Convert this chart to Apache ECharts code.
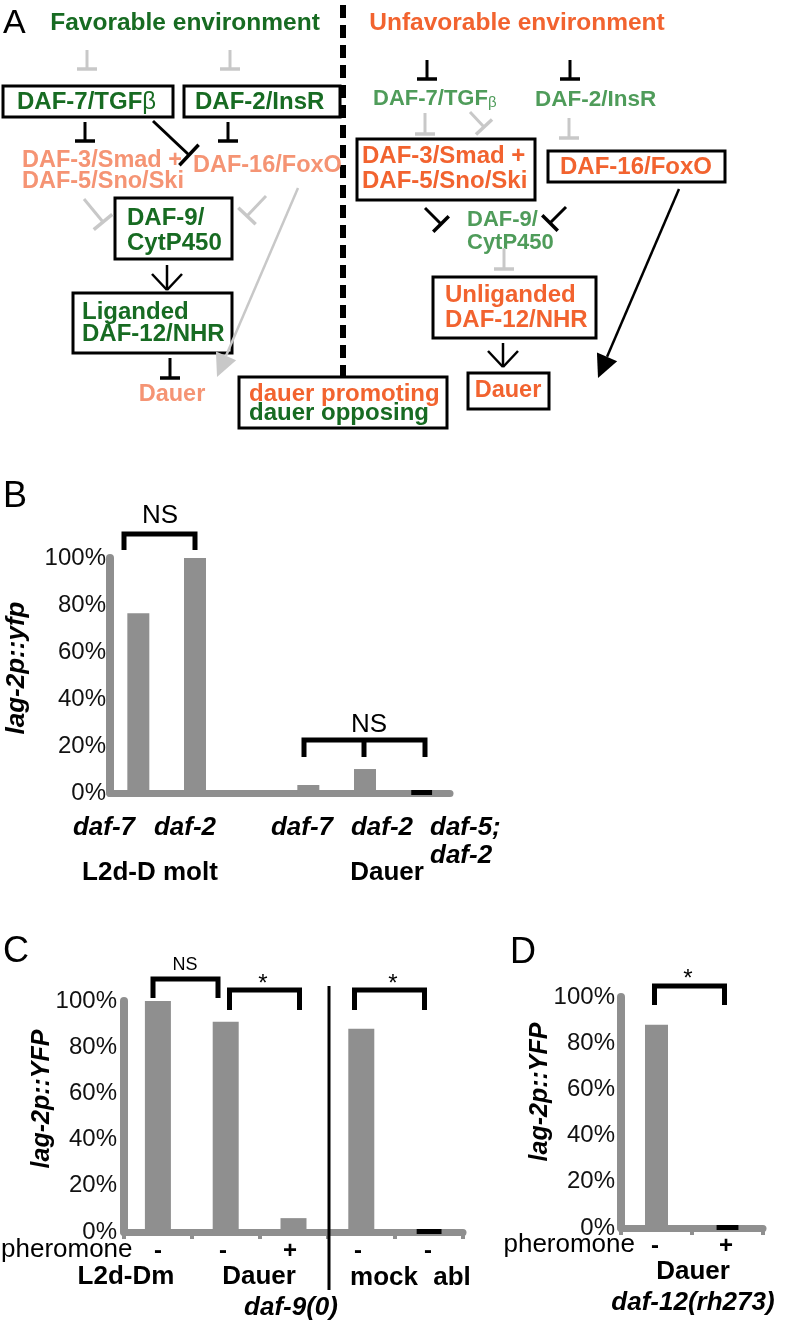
<!DOCTYPE html>
<html>
<head>
<meta charset="utf-8">
<script src="https://cdn.jsdelivr.net/npm/echarts@6/dist/echarts.min.js"></script>
<style>
html, body { margin: 0; padding: 0; background: #fff; }
#fig { width: 799px; height: 1325px; }
</style>
</head>
<body>
<div id="fig"></div>
<script>
// y ticks shared by the three bar panels (percent)
const pctTicks = [0, 20, 40, 60, 80, 100];

// panel B
const bCats = ['L2d-D daf-7', 'L2d-D daf-2', '', 'Dauer daf-7', 'Dauer daf-2', 'Dauer daf-5; daf-2'];
const bValues = [76.5, 100, '-', 3.4, 10.2, 0.5];
const bBlack = [false, false, false, false, false, true];
const bLabels = ['daf-7', 'daf-2', 'daf-7', 'daf-2', 'daf-5;', 'daf-2'];
const bGroups = ['L2d-D molt', 'Dauer'];

// panel C
const cCats = ['L2d-Dm -', 'Dauer -', 'Dauer +', 'mock -', 'abl -'];
const cValues = [100, 91, 6, 88, 0.5];
const cBlack = [false, false, false, false, true];
const cPher = ['-', '-', '+', '-', '-'];
const cGroups = ['L2d-Dm', 'Dauer', 'mock', 'abl'];

// panel D
const dCats = ['-', '+'];
const dValues = [88, 0.5];
const dBlack = [false, true];

const FONT = '"Liberation Sans", Arial, Helvetica, sans-serif';
const DG = '#176b22', OR = '#f2632f', SAL = '#f59474', MG = '#4f9c5a', GR = '#c8c8c8', BAR = '#8f8f8f';

const g = [];
function txt(x, y, s, size, color, o) {
  o = o || {};
  const st = {
    text: s, fill: color, fontSize: size, fontFamily: FONT,
    fontWeight: o.weight || 'bold', fontStyle: o.italic ? 'italic' : 'normal',
    align: o.align || 'left', textAlign: o.align || 'left',
    verticalAlign: 'middle', textVerticalAlign: 'middle'
  };
  if (o.rich) st.rich = o.rich;
  g.push({ type: 'text', x: x, y: y, rotation: o.rot || 0, style: st, z: 100 });
}
function seg(x1, y1, x2, y2, color, w, dash) {
  g.push({ type: 'line', shape: { x1: x1, y1: y1, x2: x2, y2: y2 },
    style: { stroke: color, lineWidth: w || 3, lineDash: dash || null }, z: 100 });
}
function box(x, y, w, h) {
  g.push({ type: 'rect', shape: { x: x, y: y, width: w, height: h },
    style: { fill: 'none', stroke: '#000', lineWidth: 3 }, z: 99 });
}
function inhibit(x1, y1, x2, y2, color, half) {
  const dx = x2 - x1, dy = y2 - y1, L = Math.hypot(dx, dy);
  const nx = -dy / L, ny = dx / L;
  seg(x1, y1, x2, y2, color, 3);
  seg(x2 + nx * half, y2 + ny * half, x2 - nx * half, y2 - ny * half, color, 3.5);
}
function openArrow(x, y1, y2, color) {
  seg(x, y1, x, y2, color, 2.5);
  seg(x - 15, y2 - 16, x, y2, color, 2.5);
  seg(x + 15, y2 - 16, x, y2, color, 2.5);
}
function solidArrow(x1, y1, x2, y2, color) {
  const dx = x2 - x1, dy = y2 - y1, L = Math.hypot(dx, dy);
  const ux = dx / L, uy = dy / L;
  const bx = x2 - ux * 23, by = y2 - uy * 23;
  seg(x1, y1, bx, by, color, 2.5);
  g.push({ type: 'polygon', shape: { points: [[x2, y2], [bx - uy * 11, by + ux * 11], [bx + uy * 11, by - ux * 11]] },
    style: { fill: color }, z: 100 });
}
function bracket(xs, yTop, yBot) {
  const a = xs[0], b = xs[xs.length - 1];
  g.push({ type: 'polyline', shape: { points: [[a, yBot], [a, yTop], [b, yTop], [b, yBot]] },
    style: { stroke: '#000', lineWidth: 5, fill: null }, z: 100 });
  for (let i = 1; i < xs.length - 1; i++) seg(xs[i], yTop, xs[i], yBot, '#000', 5);
}

// ---------- panel A (pathway diagram) ----------
txt(3, 24, 'A', 34, '#000', { weight: 'normal' });
txt(185, 23, 'Favorable environment', 24.5, DG, { align: 'center' });
txt(517, 23, 'Unfavorable environment', 24.5, OR, { align: 'center' });
seg(343, 5, 343, 377, '#000', 6, [13, 7]);

// favorable side
inhibit(87, 50, 87, 69, GR, 10);
inhibit(230, 50, 230, 69, GR, 10);
box(3, 86, 170, 31);
txt(17, 102, '{a|DAF-7/TGF}{b|β}', 24, DG, { rich: {
  a: { fontSize: 24, fontWeight: 'bold', fontFamily: FONT, fill: DG, color: DG },
  b: { fontSize: 24, fontWeight: 'normal', fontFamily: FONT, fill: DG, color: DG } } });
box(184, 86, 156, 31);
txt(195, 102, 'DAF-2/InsR', 24, DG);
inhibit(85, 122, 85, 141, '#000', 10);
inhibit(228, 122, 228, 141, '#000', 10);
inhibit(153, 121, 189, 155, '#000', 14);
txt(22, 161, 'DAF-3/Smad +', 23.5, SAL);
txt(22, 182, 'DAF-5/Sno/Ski', 23.5, SAL);
txt(193, 166, 'DAF-16/FoxO', 23.5, SAL);
inhibit(84, 199, 103, 222, GR, 12);
inhibit(266, 196, 247, 216, GR, 12);
box(115, 198, 117, 61);
txt(127, 218, 'DAF-9/', 24, DG);
txt(127, 243, 'CytP450', 24, DG);
openArrow(167, 265, 290, '#000');
box(73, 293, 159, 60);
txt(82, 312, 'Liganded', 24, DG);
txt(82, 334, 'DAF-12/NHR', 24, DG);
inhibit(170, 358, 170, 378, '#000', 10);
txt(172, 395, 'Dauer', 23.5, SAL, { align: 'center' });
solidArrow(298, 188, 217, 377, GR);
box(239, 377, 208, 51);
txt(249, 394, 'dauer promoting', 24, OR);
txt(249, 413, 'dauer opposing', 24, DG);

// unfavorable side
inhibit(427, 60, 427, 79, '#000', 10);
inhibit(570, 60, 570, 79, '#000', 10);
txt(373, 99, '{a|DAF-7/TGF}{b|β}', 22, MG, { rich: {
  a: { fontSize: 22, fontWeight: 'bold', fontFamily: FONT, fill: MG, color: MG },
  b: { fontSize: 15, fontWeight: 'normal', fontFamily: FONT, fill: MG, color: MG, verticalAlign: 'bottom', padding: [8, 0, 0, 0] } } });
txt(535, 100, 'DAF-2/InsR', 22.5, MG);
inhibit(425, 113, 425, 134, GR, 10);
inhibit(470, 112, 484, 127, GR, 11);
inhibit(569, 118, 569, 138, GR, 10);
box(357, 139, 178, 61);
txt(362, 156, 'DAF-3/Smad +', 24, OR);
txt(362, 181, 'DAF-5/Sno/Ski', 24, OR);
box(548, 151, 177, 31);
txt(636, 167, 'DAF-16/FoxO', 24, OR, { align: 'center' });
inhibit(425, 208, 441, 224, '#000', 11);
inhibit(566, 207, 550, 223, '#000', 11);
txt(467, 220, 'DAF-9/', 22, MG);
txt(467, 243, 'CytP450', 22, MG);
inhibit(504, 248, 504, 269, GR, 10);
box(433, 277, 163, 61);
txt(445, 295, 'Unliganded', 24, OR);
txt(445, 320, 'DAF-12/NHR', 24, OR);
openArrow(503, 343, 367, '#000');
box(468, 373, 81, 36);
txt(508, 391, 'Dauer', 23.5, OR, { align: 'center' });
solidArrow(679, 189, 598, 378, '#000');

// ---------- panel B ----------
txt(3, 497, 'B', 36, '#000', { weight: 'normal' });
txt(160, 516, 'NS', 26, '#000', { weight: 'normal', align: 'center' });
bracket([124, 195], 534, 550);
txt(369, 725, 'NS', 26, '#000', { weight: 'normal', align: 'center' });
bracket([304, 364, 425], 740, 757);
txt(104, 828, bLabels[0], 26, '#000', { italic: true, align: 'center' });
txt(185, 828, bLabels[1], 26, '#000', { italic: true, align: 'center' });
txt(302, 828, bLabels[2], 26, '#000', { italic: true, align: 'center' });
txt(382, 828, bLabels[3], 26, '#000', { italic: true, align: 'center' });
txt(430, 828, bLabels[4], 26, '#000', { italic: true });
txt(430, 856, bLabels[5], 26, '#000', { italic: true });
txt(150, 873, bGroups[0], 26, '#000', { align: 'center' });
txt(387, 873, bGroups[1], 26, '#000', { align: 'center' });
txt(17, 668, 'lag-2p::yfp', 26, '#000', { italic: true, align: 'center', rot: Math.PI / 2 });

// ---------- panel C ----------
txt(3, 952, 'C', 36, '#000', { weight: 'normal' });
txt(185, 965, 'NS', 18, '#000', { weight: 'normal', align: 'center' });
bracket([153, 218], 979, 998);
txt(263, 984, '*', 24, '#000', { weight: 'normal', align: 'center' });
bracket([229.5, 299.5], 990, 1010);
txt(393, 984, '*', 24, '#000', { weight: 'normal', align: 'center' });
bracket([354.5, 424.5], 990, 1010);
seg(329, 986, 329, 1290, '#000', 3);
txt(1, 1250, 'pheromone', 26, '#000', { weight: 'normal' });
[158, 223, 290, 358, 428].forEach(function (x, i) { txt(x, 1251, cPher[i], 24, '#000', { align: 'center' }); });
txt(126, 1277, cGroups[0], 26, '#000', { align: 'center' });
txt(259, 1277, cGroups[1], 26, '#000', { align: 'center' });
txt(384, 1278, cGroups[2], 26, '#000', { align: 'center' });
txt(452, 1278, cGroups[3], 26, '#000', { align: 'center' });
txt(291, 1308, 'daf-9(0)', 26, '#000', { italic: true, align: 'center' });
txt(42, 1099, 'lag-2p::YFP', 25, '#000', { italic: true, align: 'center', rot: Math.PI / 2 });

// ---------- panel D ----------
txt(510, 953, 'D', 36, '#000', { weight: 'normal' });
txt(688, 979, '*', 24, '#000', { weight: 'normal', align: 'center' });
bracket([654.5, 724.5], 986, 1005);
txt(635, 1245, 'pheromone', 26, '#000', { weight: 'normal', align: 'right' });
txt(655, 1246, dCats[0], 24, '#000', { align: 'center' });
txt(726, 1246, dCats[1], 24, '#000', { align: 'center' });
txt(693, 1272, 'Dauer', 26, '#000', { align: 'center' });
txt(693, 1303, 'daf-12(rh273)', 26, '#000', { italic: true, align: 'center' });
txt(540, 1092, 'lag-2p::YFP', 25, '#000', { italic: true, align: 'center', rot: Math.PI / 2 });

function yAx(idx, margin) {
  return {
    type: 'value', gridIndex: idx,
    min: pctTicks[0], max: pctTicks[pctTicks.length - 1], interval: pctTicks[1] - pctTicks[0],
    axisLine: { show: true, lineStyle: { color: BAR, width: 8 } },
    axisTick: { show: false },
    splitLine: { show: false },
    axisLabel: { formatter: '{value}%', fontSize: 24, color: '#111', fontFamily: FONT, margin: margin }
  };
}
function xAx(idx, cats, ticks) {
  return {
    type: 'category', gridIndex: idx, data: cats,
    axisLine: { lineStyle: { color: BAR, width: 7 } },
    axisTick: { show: ticks, length: 7, lineStyle: { color: BAR, width: 4 } },
    axisLabel: { show: false }
  };
}
function bars(idx, vals, black, w) {
  return {
    type: 'bar', xAxisIndex: idx, yAxisIndex: idx, barWidth: w,
    itemStyle: { color: BAR },
    data: vals.map(function (v, i) {
      return black[i] ? { value: v, itemStyle: { color: '#000', borderColor: '#000', borderWidth: 5 } } : v;
    })
  };
}

const option = {
  animation: false,
  grid: [
    { left: 110, top: 558, width: 340, height: 235 },
    { left: 124, top: 1001, width: 339, height: 231 },
    { left: 621, top: 997, width: 142, height: 231 }
  ],
  xAxis: [xAx(0, bCats, false), xAx(1, cCats, true), xAx(2, dCats, true)],
  yAxis: [yAx(0, 4), yAx(1, 7), yAx(2, 6)],
  series: [bars(0, bValues, bBlack, 22), bars(1, cValues, cBlack, 26), bars(2, dValues, dBlack, 23)],
  graphic: { elements: g }
};

const chart = echarts.init(document.getElementById('fig'));
chart.setOption(option);
</script>
</body>
</html>
